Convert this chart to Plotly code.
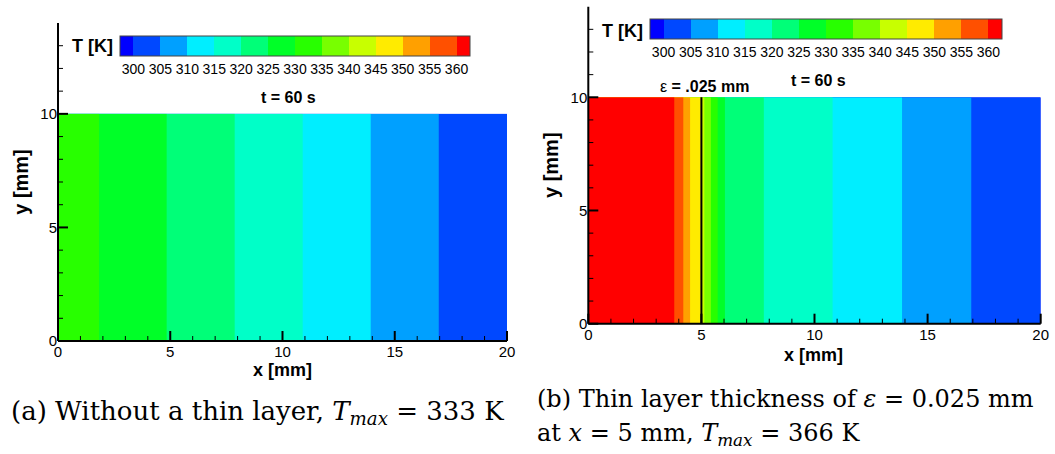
import plotly.graph_objects as go

# ---- data ----
levels_start, levels_end, levels_step = 300, 360, 5
band_colors = ["#0000FF", "#0048FF", "#00A0FF", "#00EEFF", "#00FFC8", "#00FF78",
               "#00FF28", "#28FF00", "#78FF00", "#C8FF00", "#FFEB00", "#FFA000",
               "#FF5000", "#FF0000"]

# (a) without thin layer: temperature profile along x (uniform in y)
xa = [0.0, 1.83, 4.84, 7.87, 10.90, 13.93, 16.96, 20.0]
Ta = [333.0, 330.0, 325.0, 320.0, 315.0, 310.0, 305.0, 300.2]

# (b) thin layer at x = 5 mm
xb = [0.0, 3.80, 4.20, 4.50, 4.99, 5.01, 5.13, 5.42, 5.72, 6.04, 7.76, 10.80, 13.87, 16.93, 20.0]
Tb = [366.0, 360.0, 355.0, 350.0, 346.0, 344.0, 340.0, 335.0, 330.0, 325.0, 320.0, 315.0, 310.0, 305.0, 300.5]

y_edges = [0.0, 10.0]
layer_x = 5.0

# axes
x_range = [0, 20]
y_range = [0, 14]
x_major_ticks = [0, 5, 10, 15, 20]
y_major_ticks = [0, 5, 10]
x_minor_ticks = list(range(0, 21))
y_minor_ticks = list(range(0, 14))

W, H = 1055, 454
n = len(band_colors)
cscale = []
for k, c in enumerate(band_colors):
    lo = max(0.0, (k - 0.5) / (n - 1))
    hi = min(1.0, (k + 0.5) / (n - 1))
    cscale.append([lo, c])
    cscale.append([hi, c])

SANS = "Liberation Sans, Arial, sans-serif"
SERIF = "DejaVu Serif, serif"


def px_x(p):
    return p / W


def px_y(p):
    return (H - p) / H


def contour(x, T, xa_name, ya_name, cb_x, cb_y, cb_len):
    return go.Contour(
        x=x, y=y_edges, z=[T, T],
        xaxis=xa_name, yaxis=ya_name,
        autocontour=False,
        contours=dict(start=levels_start, end=levels_end, size=levels_step,
                      coloring="fill", showlines=False),
        line=dict(width=0, smoothing=0),
        colorscale=cscale,
        showscale=True,
        hoverinfo="skip",
        colorbar=dict(orientation="h", x=cb_x, xanchor="left", y=cb_y, yanchor="top",
                      len=cb_len, lenmode="pixels", thickness=20, thicknessmode="pixels",
                      xpad=0, ypad=0, outlinewidth=1, outlinecolor="#444",
                      tick0=levels_start, dtick=levels_step, ticks="",
                      tickfont=dict(family=SANS, size=14, color="black")),
    )


def frame_shapes(xname, yname, w_px, h_px):
    """Axis lines and inward tick marks as line shapes in the subplot's domain frame."""
    xref = xname + " domain"
    yref = yname + " domain"
    shapes = []

    def fx(v):
        return (v - x_range[0]) / (x_range[1] - x_range[0])

    def fy(v):
        return (v - y_range[0]) / (y_range[1] - y_range[0])

    for v in x_minor_ticks:
        major = v in x_major_ticks
        ln = 10 if major else 5
        shapes.append(dict(type="line", xref=xref, yref=yref, x0=fx(v), x1=fx(v),
                           y0=0, y1=ln / h_px, layer="above",
                           line=dict(color="black", width=2 if major else 1)))
    for v in y_minor_ticks:
        major = v in y_major_ticks
        ln = 10 if major else 5
        shapes.append(dict(type="line", xref=xref, yref=yref, x0=0, x1=ln / w_px,
                           y0=fy(v), y1=fy(v), layer="above",
                           line=dict(color="black", width=2 if major else 1)))
    shapes.append(dict(type="line", xref=xref, yref=yref, x0=0, x1=0, y0=0, y1=1,
                       layer="above", line=dict(color="black", width=2)))
    shapes.append(dict(type="line", xref=xref, yref=yref, x0=0, x1=1, y0=0, y1=0,
                       layer="above", line=dict(color="black", width=2)))
    return shapes


fig = go.Figure()
fig.add_trace(contour(xa, Ta, "x", "y", px_x(120), px_y(36), 350))
fig.add_trace(contour(xb, Tb, "x2", "y2", px_x(650), px_y(19.3), 352))
fig.add_trace(go.Scatter(x=[layer_x, layer_x], y=y_edges, xaxis="x2", yaxis="y2",
                         mode="lines", line=dict(color="black", width=2),
                         hoverinfo="skip", showlegend=False))

axis_base = dict(
    showline=False, showgrid=False, zeroline=False, automargin=False,
    ticks="", tickfont=dict(family=SANS, size=15, color="black"),
)
ytitle_font = dict(family=SANS, size=20, color="black")

fig.update_layout(
    template="none",
    width=W, height=H, margin=dict(l=0, r=0, t=0, b=0, autoexpand=False),
    paper_bgcolor="white", plot_bgcolor="white", showlegend=False,
    xaxis=dict(domain=[px_x(58), px_x(507)], range=x_range, tickvals=x_major_ticks, anchor="y",
               **axis_base),
    yaxis=dict(domain=[px_y(341), px_y(23)], range=y_range, tickvals=y_major_ticks, anchor="x",
               title=dict(text="<b>y [mm]</b>", font=ytitle_font, standoff=6), **axis_base),
    xaxis2=dict(domain=[px_x(588.3), px_x(1040.7)], range=x_range, tickvals=x_major_ticks, anchor="y2",
                **axis_base),
    yaxis2=dict(domain=[px_y(323.7), px_y(6.7)], range=y_range, tickvals=y_major_ticks, anchor="x2",
                title=dict(text="<b>y [mm]</b>", font=ytitle_font, standoff=6), **axis_base),
    shapes=frame_shapes("x", "y", 507 - 58, 341 - 23)
    + frame_shapes("x2", "y2", 1040.7 - 588.3, 323.7 - 6.7),
)

ann = []
ann.append(dict(text="<b>x [mm]</b>", x=px_x(282), y=px_y(370), xanchor="center", yanchor="middle",
                font=dict(family=SANS, size=18, color="black")))
ann.append(dict(text="<b>x [mm]</b>", x=px_x(813), y=px_y(355), xanchor="center", yanchor="middle",
                font=dict(family=SANS, size=18, color="black")))
ann.append(dict(text="<b>T [K]</b>", x=px_x(115), y=px_y(46), xanchor="right", yanchor="middle",
                font=dict(family=SANS, size=18, color="black")))
ann.append(dict(text="<b>T [K]</b>", x=px_x(645), y=px_y(30.7), xanchor="right", yanchor="middle",
                font=dict(family=SANS, size=18, color="black")))
ann.append(dict(text="<b>t = 60 s</b>", x=px_x(288), y=px_y(97), xanchor="center", yanchor="middle",
                font=dict(family=SANS, size=16, color="black")))
ann.append(dict(text="<b>t = 60 s</b>", x=px_x(818), y=px_y(80), xanchor="center", yanchor="middle",
                font=dict(family=SANS, size=16, color="black")))
ann.append(dict(text="ε <b>= .025 mm</b>", x=px_x(704), y=px_y(86.5), xanchor="center", yanchor="middle",
                font=dict(family=SANS, size=16, color="black")))
ann.append(dict(text="(a) Without a thin layer, <i>T</i><sub><i>max</i></sub> = 333 K",
                x=px_x(9), y=px_y(412), xanchor="left", yanchor="middle",
                font=dict(family=SERIF, size=26, color="black")))
ann.append(dict(text="(b) Thin layer thickness of <i>ε</i> = 0.025 mm",
                x=px_x(535), y=px_y(399), xanchor="left", yanchor="middle",
                font=dict(family=SERIF, size=24, color="black")))
ann.append(dict(text="at <i>x</i> = 5 mm, <i>T</i><sub><i>max</i></sub> = 366 K",
                x=px_x(535), y=px_y(434), xanchor="left", yanchor="middle",
                font=dict(family=SERIF, size=24, color="black")))
for a in ann:
    a.update(xref="paper", yref="paper", showarrow=False)
fig.update_layout(annotations=ann)

fig.write_html("out.html")
